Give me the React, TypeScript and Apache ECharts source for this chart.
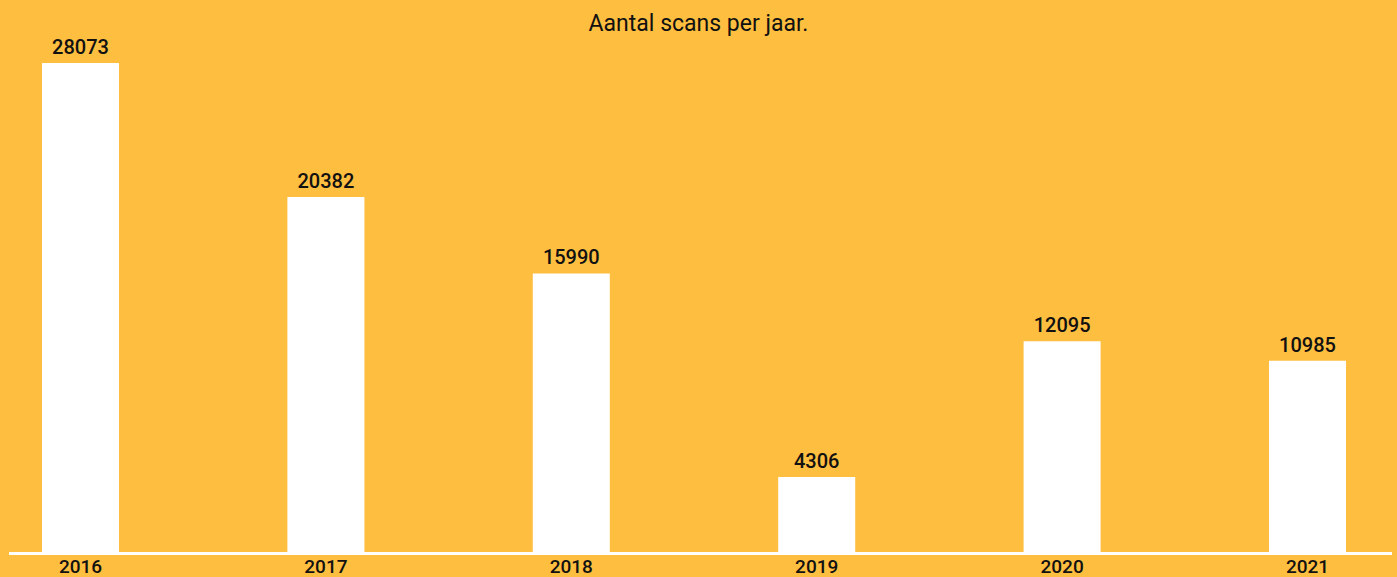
import React, { useEffect, useRef } from "react";
import * as echarts from "echarts";

const categories = ["2016", "2017", "2018", "2019", "2020", "2021"];
const scans = [28073, 20382, 15990, 4306, 12095, 10985];
const titleText = "Aantal scans per jaar.";

export default function App() {
  const ref = useRef<HTMLDivElement>(null);
  useEffect(() => {
    if (!ref.current) return;
    const chart = echarts.init(ref.current, undefined, { renderer: "svg" });
    const font = "Roboto, 'Noto Sans', sans-serif";
    chart.setOption({
      animation: false,
      backgroundColor: "#FEBE40",
      title: {
        text: titleText,
        left: "center",
        top: 7,
        textStyle: { fontFamily: font, fontSize: 23, fontWeight: "normal", color: "#111" },
      },
      grid: { left: 80.5, right: 89.5, top: 63, bottom: 25, containLabel: false },
      xAxis: {
        type: "category",
        data: categories,
        boundaryGap: false,
        axisLine: { show: false },
        axisTick: { show: false },
        axisLabel: { margin: 5, fontFamily: font, fontSize: 19, fontWeight: 500, color: "#111" },
        splitLine: { show: false },
      },
      yAxis: {
        type: "value",
        min: 0,
        max: "dataMax",
        show: false,
        splitLine: { show: false },
      },
      graphic: [
        {
          type: "line",
          shape: { x1: 9, y1: 553.5, x2: 1392, y2: 553.5 },
          style: { stroke: "#ffffff", lineWidth: 3 },
          z: 10,
        },
      ],
      series: [
        {
          type: "bar",
          data: scans,
          barWidth: 77,
          itemStyle: { color: "#ffffff" },
          label: {
            show: true,
            position: "top",
            distance: 6,
            fontFamily: font,
            fontSize: 20,
            fontWeight: 500,
            color: "#111",
          },
        },
      ],
    });
    return () => chart.dispose();
  }, []);
  return (
    <div
      ref={ref}
      style={{ position: "absolute", left: 0, top: 0, width: 1397, height: 577 }}
    />
  );
}
